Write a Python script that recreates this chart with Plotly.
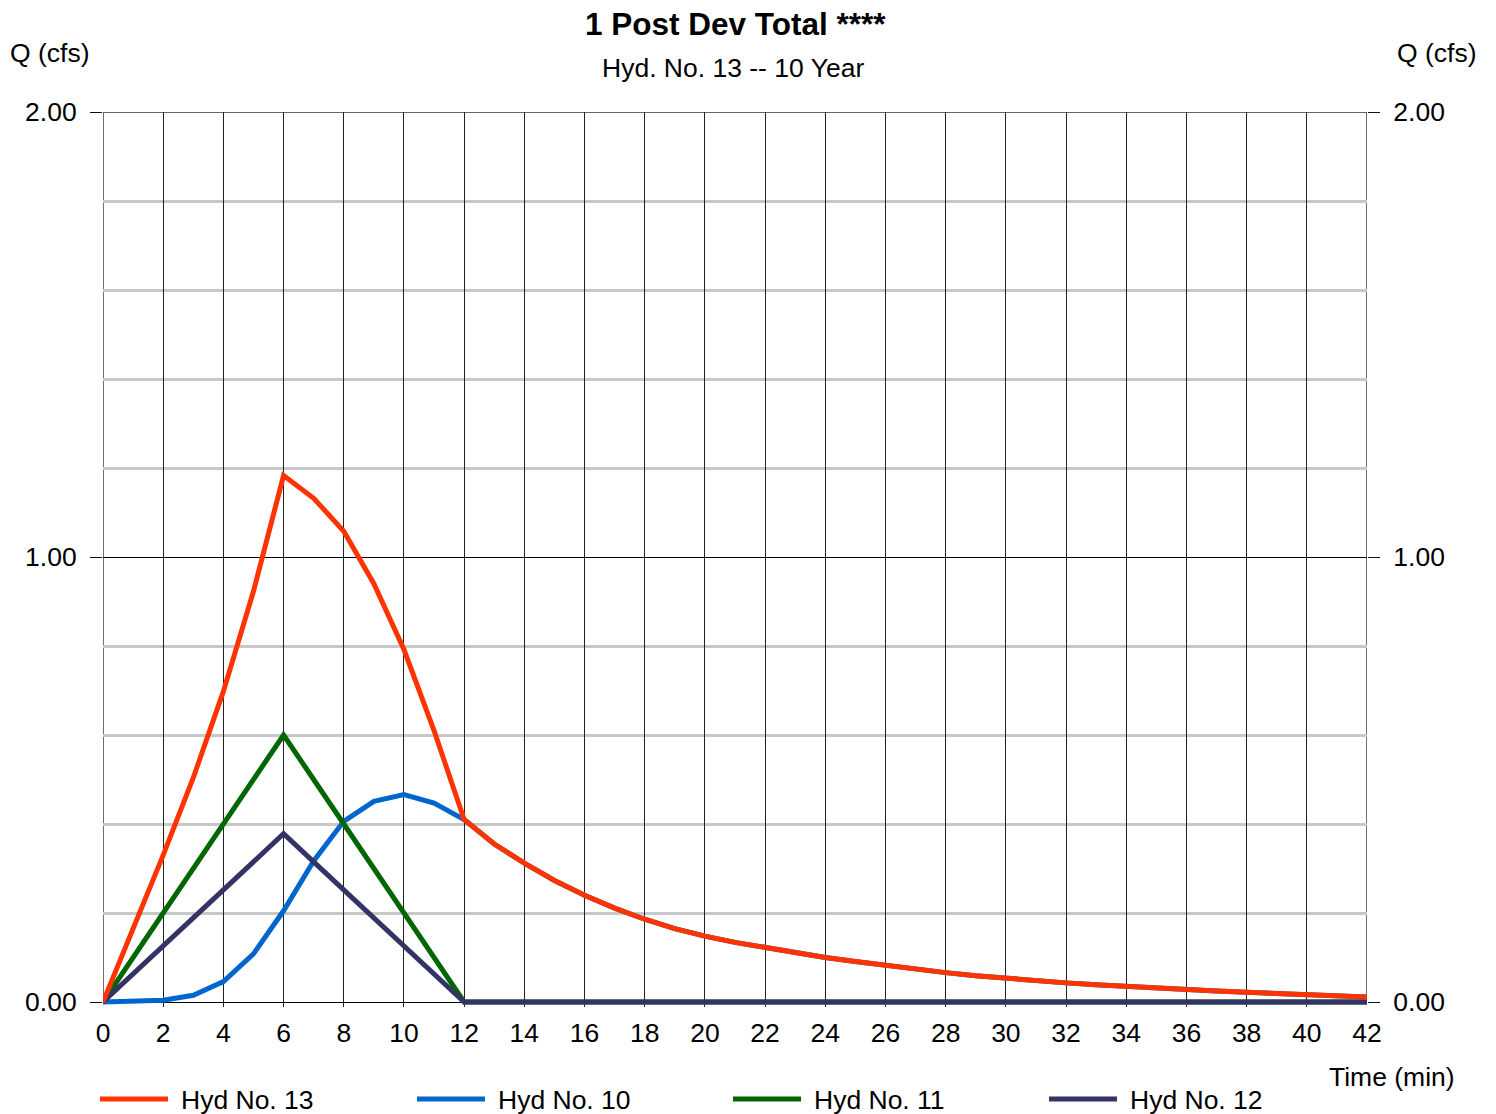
import plotly.graph_objects as go

# Hydrograph time axis (minutes)
time_min = list(range(0, 43))

# Hyd No. 10 (rises slowly, recedes after 12 min)
hyd10 = [0.000, 0.002, 0.004, 0.015, 0.046, 0.108, 0.205, 0.317, 0.406, 0.451, 0.466, 0.447, 0.410,
         0.355, 0.312, 0.273, 0.240, 0.211, 0.186, 0.165, 0.148, 0.134, 0.122, 0.111, 0.100,
         0.091, 0.082, 0.074, 0.066, 0.059, 0.053, 0.048, 0.043, 0.039, 0.035, 0.031, 0.028,
         0.025, 0.022, 0.019, 0.016, 0.013, 0.011]

# Hyd No. 11 and Hyd No. 12 (triangular hydrographs, peak at 6 min)
hyd11 = [0.00, 0.10, 0.20, 0.30, 0.40, 0.50, 0.60, 0.50, 0.40, 0.30, 0.20, 0.10, 0.00] + [0.0] * 30
hyd12 = [0.000, 0.063, 0.126, 0.189, 0.252, 0.315, 0.378, 0.315, 0.252, 0.189, 0.126, 0.063, 0.000] + [0.0] * 30

# Hyd No. 13 is the combined total
hyd13 = [round(a + b + c, 3) for a, b, c in zip(hyd10, hyd11, hyd12)]

y_ticks = [0, 1, 2]
y_tick_text = ["0.00", "1.00", "2.00"]
x_ticks = list(range(0, 43, 2))

series = [
    ("Hyd No. 13", hyd13, "#FF3300"),
    ("Hyd No. 10", hyd10, "#0066CC"),
    ("Hyd No. 11", hyd11, "#006600"),
    ("Hyd No. 12", hyd12, "#333366"),
]

FONT = "Liberation Sans, Arial, sans-serif"
FS = 26.5
LW = 5

fig = go.Figure()
# draw order: 10, 11, 12 underneath, 13 on top (on the overlaid right axis)
for name, vals, color in [series[1], series[2], series[3]]:
    fig.add_trace(go.Scatter(x=time_min, y=vals, mode="lines", name=name,
                             line=dict(color=color, width=LW), showlegend=False,
                             hoverinfo="skip"))
fig.add_trace(go.Scatter(x=time_min, y=hyd13, mode="lines", name="Hyd No. 13",
                         line=dict(color="#FF3300", width=LW), showlegend=False,
                         yaxis="y2", hoverinfo="skip"))

# plot area: small strip below zero so lines lying on 0 are not half clipped
L, R, T, B = 103, 129, 112, 107
W, H = 1496, 1114
pw, ph = W - L - R, H - T - B
y_lo = ph / 445.0 - 2.0
y_range = [-y_lo, 2]


def px_x(px):
    return (px - L) / pw


def px_y(py):
    return (H - B - py) / ph


annotations = [
    dict(text="<b>1 Post Dev Total ****</b>", x=px_x(735), y=px_y(24), size=31.5),
    dict(text="Hyd. No. 13 -- 10 Year", x=px_x(733), y=px_y(68), size=FS),
    dict(text="Q (cfs)", x=px_x(50), y=px_y(53), size=FS),
    dict(text="Q (cfs)", x=px_x(1437), y=px_y(53), size=FS),
    dict(text="Time (min)", x=px_x(1392), y=px_y(1077), size=FS),
]
ann = [dict(text=a["text"], x=a["x"], y=a["y"], xref="paper", yref="paper",
            xanchor="center", yanchor="middle", showarrow=False,
            font=dict(family=FONT, size=a["size"], color="black")) for a in annotations]

# legend row along the bottom
shapes = []
legend_x0 = [100, 417, 733, 1049]
for (name, _, color), x0 in zip(series, legend_x0):
    shapes.append(dict(type="line", xref="paper", yref="paper",
                       x0=px_x(x0), x1=px_x(x0 + 68), y0=px_y(1099), y1=px_y(1099),
                       line=dict(color=color, width=5)))
    ann.append(dict(text=name, x=px_x(x0 + 79), y=px_y(1100), xref="paper", yref="paper",
                    xanchor="left", yanchor="middle", showarrow=False,
                    font=dict(family=FONT, size=FS, color="black")))

# frame: top edge and left/right edges down to the zero line
shapes.append(dict(type="line", xref="x", yref="y", x0=0, x1=42, y0=2, y1=2,
                   line=dict(color="#333333", width=1.4), layer="below"))
for xe in (0, 42):
    shapes.append(dict(type="line", xref="x", yref="y", x0=xe, x1=xe, y0=0, y1=2,
                       line=dict(color="#333333", width=1.4), layer="below"))

minor_y = [0.2, 0.4, 0.6, 0.8, 1.2, 1.4, 1.6, 1.8]

fig.update_layout(
    width=W, height=H,
    margin=dict(l=L, r=R, t=T, b=B),
    paper_bgcolor="white", plot_bgcolor="white",
    font=dict(family=FONT, size=FS, color="black"),
    xaxis=dict(range=[0, 42], tickvals=x_ticks, showgrid=True, gridcolor="#222222",
               gridwidth=1.4, zeroline=False, showline=False, ticks="",
               ticklabelstandoff=7, tickfont=dict(size=FS)),
    yaxis=dict(range=y_range, tickvals=y_ticks, ticktext=y_tick_text, showgrid=True,
               gridcolor="#000000", gridwidth=1.4, zeroline=False, showline=False,
               ticks="outside", ticklen=12, tickcolor="#111111", tickwidth=1.4,
               ticklabelstandoff=8, tickfont=dict(size=FS),
               minor=dict(tickvals=minor_y, showgrid=True, gridcolor="#c8c8c8",
                          gridwidth=2.5, ticks="")),
    yaxis2=dict(range=y_range, tickvals=y_ticks, ticktext=y_tick_text, overlaying="y",
                side="right", showgrid=False, zeroline=False, ticks="outside", ticklen=12,
                tickcolor="#111111", tickwidth=1.4, ticklabelstandoff=8,
                tickfont=dict(size=FS)),
    annotations=ann,
    shapes=shapes,
    showlegend=False,
)

fig.write_html("out.html")
